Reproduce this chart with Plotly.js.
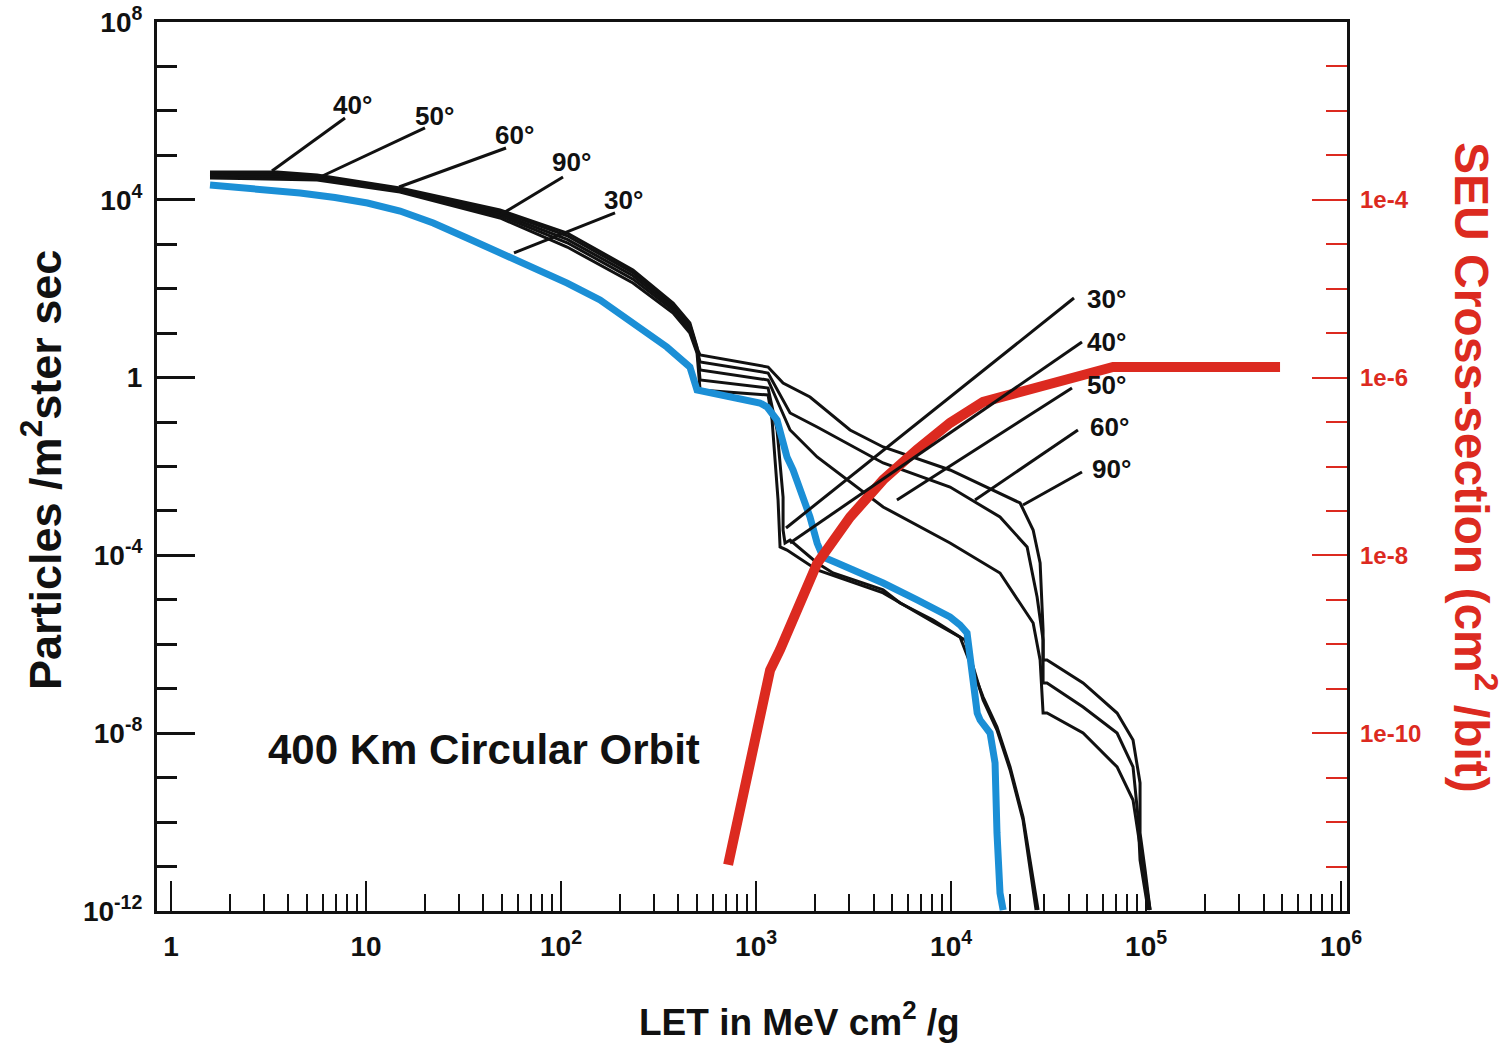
<!DOCTYPE html>
<html>
<head>
<meta charset="utf-8">
<script src="https://cdn.plot.ly/plotly-3.0.1.min.js"></script>
<style>html,body{margin:0;padding:0;background:#fff;}#chart{width:1506px;height:1047px;}</style>
</head>
<body>
<div id="chart"></div>
<script>
// ---------- data (LET in MeV cm^2/g, flux in particles /m^2 ster sec) ----------
const let90 = [1.584, 3.494, 5.61, 14.92, 48.6, 107.5, 233.7, 375.4, 457.7, 497.9, 516.2, 1152, 1375, 1890, 3032, 4482, 9877, 17810, 22580, 26340, 28600, 29620, 29620, 31030, 47500, 70960, 85670, 93070, 93070, 98790, 104800];
const flux90 = [39600, 39300, 34300, 17700, 5430, 1550, 230, 42.9, 15.2, 4.58, 3.22, 1.73, 0.755, 0.366, 0.0662, 0.0275, 0.00834, 0.00254, 0.00151, 3.72e-4, 6.75e-5, 2.10e-6, 4.44e-7, 4.44e-7, 1.35e-7, 2.84e-8, 7.03e-9, 7.59e-10, 5.69e-11, 8.36e-12, 1.05e-12];

const let60 = [1.584, 3.494, 5.61, 14.92, 48.6, 107.5, 233.7, 375.4, 457.7, 497.9, 516.2, 1152, 1494, 2056, 4482, 9877, 17810, 24530, 27600, 29620, 29620, 31030, 47500, 70960, 85670, 90880, 93070, 102400];
const flux60 = [36600, 35900, 32100, 16800, 4900, 1290, 195, 37.6, 13.3, 4.24, 2.24, 1.27, 0.16, 0.0774, 0.012, 0.00346, 7.31e-4, 1.55e-4, 1.16e-5, 1.25e-6, 1.35e-7, 1.35e-7, 3.88e-8, 1.01e-8, 1.74e-9, 1.30e-10, 1.40e-11, 1.05e-12];

const let50 = [1.584, 3.494, 5.61, 14.92, 48.6, 107.5, 233.7, 375.4, 457.7, 497.9, 516.2, 1152, 1494, 2056, 4482, 9877, 17810, 26340, 28600, 29620, 31030, 47500, 70960, 85670, 90880, 98790, 104800];
const flux50 = [33900, 32800, 30100, 15900, 4420, 1080, 164, 33.0, 11.7, 3.93, 1.48, 0.883, 0.0662, 0.0164, 0.00123, 1.90e-4, 4.02e-5, 3.01e-6, 4.44e-7, 2.84e-8, 2.84e-8, 1.01e-8, 1.74e-9, 3.14e-10, 5.69e-11, 4.98e-12, 1.05e-12];

const let40 = [1.584, 3.494, 5.61, 14.92, 48.6, 107.5, 233.7, 375.4, 457.7, 497.9, 516.2, 1152, 1281, 1327, 1375, 1375, 1407, 1494, 2056, 2480, 4482, 5470, 8083, 11110, 14590, 17190, 20060, 23380, 27930];
const flux40 = [42200, 42200, 36100, 18400, 5900, 1790, 264, 47.6, 16.9, 4.88, 0.883, 0.583, 0.0662, 0.012, 0.00206, 3.72e-4, 1.90e-4, 2.22e-4, 6.75e-5, 4.02e-5, 1.67e-5, 8.49e-6, 3.52e-6, 1.46e-6, 6.52e-8, 1.38e-8, 1.74e-9, 1.30e-10, 1.05e-12];

const let30 = [1.584, 3.494, 5.61, 14.92, 48.6, 107.5, 233.7, 375.4, 457.7, 497.9, 516.2, 1152, 1208, 1251, 1296, 1327, 1440, 2056, 4482, 8083, 11800, 14590, 17190, 20060, 23380, 27270];
const flux30 = [30900, 29500, 27900, 15000, 3900, 867, 134, 28.2, 10.0, 3.57, 0.526, 0.406, 0.111, 0.014, 0.00176, 1.55e-4, 1.32e-4, 4.70e-5, 1.43e-5, 3.18e-6, 1.25e-6, 5.58e-8, 1.18e-8, 1.49e-9, 1.11e-10, 1.05e-12];

const letBlue = [1.584, 2.54, 4.585, 6.93, 10.16, 14.94, 22.11, 32.94, 48.6, 71.8, 107.5, 158.4, 233.7, 348.6, 457.7, 497.9, 1046, 1139, 1281, 1374, 1440, 1548, 1680, 1890, 2056, 2204, 2603, 4482, 6693, 9868, 11110, 12070, 13610, 14090, 15840, 16800, 17190, 17810, 18490];
const fluxBlue = [21500, 18430, 14220, 11260, 8470, 5598, 3006, 1383, 635, 292.4, 134, 55.7, 16.9, 4.88, 1.73, 0.526, 0.269, 0.218, 0.111, 0.0394, 0.0164, 0.00834, 0.00296, 7.31e-4, 1.90e-4, 9.2e-5, 6.75e-5, 2.39e-5, 9.93e-6, 4.11e-6, 2.72e-6, 1.79e-6, 2.84e-8, 1.98e-8, 1.01e-8, 2.14e-9, 5.69e-11, 2.54e-12, 1.05e-12];

// SEU cross-section (cm^2/bit) vs LET
const letSEU = [718.5, 1180, 1327, 2056, 3032, 4482, 6693, 9877, 14590, 67670, 486000];
const seuXsec = [3.31e-12, 5.13e-10, 8.71e-10, 8.13e-9, 2.69e-8, 7.08e-8, 1.55e-7, 3.09e-7, 5.32e-7, 1.32e-6, 1.32e-6];

// tick labels
const xTickVals = [1, 10, 100, 1000, 10000, 100000, 1000000];
const xTickText = ['1', '10', '10<sup>2</sup>', '10<sup>3</sup>', '10<sup>4</sup>', '10<sup>5</sup>', '10<sup>6</sup>'];
const yTickVals = [1e-12, 1e-8, 1e-4, 1, 1e4, 1e8];
const yTickText = ['10<sup>-12</sup>', '10<sup>-8</sup>', '10<sup>-4</sup>', '1', '10<sup>4</sup>', '10<sup>8</sup>'];
const y2TickVals = [1e-10, 1e-8, 1e-6, 1e-4];
const y2TickText = ['1e-10', '1e-8', '1e-6', '1e-4'];
const angleLabels = ['30°', '40°', '50°', '60°', '90°'];

// ---------- tick helpers ----------
const xMinor = [];
for (let d = 0; d < 6; d++) for (let k = 2; k <= 9; k++) xMinor.push(k * Math.pow(10, d));
const yMinor = [];
for (let e = -11; e <= 7; e++) if (e % 4 !== 0) yMinor.push(Math.pow(10, e));
const y2Minor = [];
for (let e = -11.5; e <= -2.5; e += 0.5) if (!(Number.isInteger(e) && e % 2 === 0)) y2Minor.push(Math.pow(10, e));

const FONT = 'Liberation Sans, Arial, Helvetica, sans-serif';
const RED = '#dc2a20';
const BLUE = '#1b8fd6';

function blackTrace(x, y, name) {
  return {x: x, y: y, name: name, type: 'scatter', mode: 'lines',
          line: {color: '#111', width: 3}, hoverinfo: 'skip'};
}

const traces = [
  blackTrace(let90, flux90, '90°'),
  blackTrace(let60, flux60, '60°'),
  blackTrace(let50, flux50, '50°'),
  blackTrace(let40, flux40, '40°'),
  blackTrace(let30, flux30, '30°'),
  {x: letBlue, y: fluxBlue, name: 'blue', type: 'scatter', mode: 'lines',
   line: {color: BLUE, width: 7}},
  {x: letSEU, y: seuXsec, name: 'SEU', type: 'scatter', mode: 'lines', yaxis: 'y2',
   line: {color: RED, width: 10}}
];

// leader lines (paper coordinates) and label positions
const leaders = [
  [0.0966, 0.8324, 0.1580, 0.8920],
  [0.1336, 0.8234, 0.2252, 0.8808],
  [0.2034, 0.8144, 0.2933, 0.8583],
  [0.2882, 0.7829, 0.3412, 0.8256],
  [0.3000, 0.7402, 0.3849, 0.7852],
  [0.5286, 0.4308, 0.7706, 0.6895],
  [0.5319, 0.4139, 0.7773, 0.6400],
  [0.6218, 0.4623, 0.7689, 0.5883],
  [0.6874, 0.4623, 0.7739, 0.5411],
  [0.7277, 0.4567, 0.7773, 0.4938]
];
const shapes = leaders.map(l => ({type: 'line', xref: 'paper', yref: 'paper',
  x0: l[0], y0: l[1], x1: l[2], y1: l[3], line: {color: '#111', width: 3}}));

const labelPos = [
  [0.1647, 0.9066, 1], [0.2336, 0.8943, 2], [0.3000, 0.8729, 3], [0.3479, 0.8425, 4], [0.3916, 0.7998, 0],
  [0.7983, 0.6884, 0], [0.7983, 0.6400, 1], [0.7983, 0.5917, 2], [0.8000, 0.5444, 3], [0.8017, 0.4972, 4]
];
const annotations = labelPos.map(p => ({xref: 'paper', yref: 'paper', x: p[0], y: p[1],
  text: angleLabels[p[2]], showarrow: false, xanchor: 'center', yanchor: 'middle',
  font: {family: FONT, size: 26, color: '#111', weight: 700}}));

annotations.push(
  {xref: 'paper', yref: 'paper', x: 0.2748, y: 0.1822, text: '400 Km Circular Orbit', showarrow: false,
   xanchor: 'center', yanchor: 'middle', font: {family: FONT, size: 42, color: '#111', weight: 700}},
  {xref: 'paper', yref: 'paper', x: -0.0966, y: 0.4961, text: 'Particles /m<sup>2</sup>ster sec', showarrow: false,
   textangle: -90, xanchor: 'center', yanchor: 'middle', font: {family: FONT, size: 45, color: '#111', weight: 700}},
  {xref: 'paper', yref: 'paper', x: 0.5403, y: -0.1215, text: 'LET in MeV cm<sup>2</sup> /g', showarrow: false,
   xanchor: 'center', yanchor: 'middle', font: {family: FONT, size: 37, color: '#111', weight: 700}},
  {xref: 'paper', yref: 'paper', x: 1.1076, y: 0.4994, text: 'SEU Cross-section (cm<sup>2</sup> /bit)', showarrow: false,
   textangle: 90, xanchor: 'center', yanchor: 'middle', font: {family: FONT, size: 48, color: RED, weight: 700}}
);

const layout = {
  width: 1506, height: 1047,
  margin: {l: 157, r: 159, t: 22, b: 136, pad: 0},
  paper_bgcolor: '#fff', plot_bgcolor: '#fff',
  showlegend: false,
  xaxis: {
    type: 'log', range: [-0.072, 6.03], showgrid: false, zeroline: false,
    showline: true, linecolor: '#111', linewidth: 3, mirror: true,
    ticks: 'inside', ticklen: 30, tickwidth: 2, tickcolor: '#111',
    tickmode: 'array', tickvals: xTickVals, ticktext: xTickText,
    tickfont: {family: FONT, size: 28, color: '#111', weight: 700},
    ticklabelstandoff: 8,
    minor: {tickmode: 'array', tickvals: xMinor, ticks: 'inside', ticklen: 17, tickwidth: 2, tickcolor: '#111', showgrid: false}
  },
  yaxis: {
    type: 'log', range: [-12, 8], showgrid: false, zeroline: false,
    showline: true, linecolor: '#111', linewidth: 3, mirror: true,
    ticks: 'inside', ticklen: 38, tickwidth: 3, tickcolor: '#111',
    tickmode: 'array', tickvals: yTickVals, ticktext: yTickText,
    tickfont: {family: FONT, size: 28, color: '#111', weight: 700},
    ticklabelstandoff: 6,
    minor: {tickmode: 'array', tickvals: yMinor, ticks: 'inside', ticklen: 20, tickwidth: 3, tickcolor: '#111', showgrid: false}
  },
  yaxis2: {
    type: 'log', range: [-12, -2], overlaying: 'y', side: 'right', showgrid: false, zeroline: false,
    showline: false,
    ticks: 'inside', ticklen: 35, tickwidth: 2, tickcolor: RED,
    tickmode: 'array', tickvals: y2TickVals, ticktext: y2TickText,
    tickfont: {family: FONT, size: 24, color: RED, weight: 700},
    ticklabelstandoff: 12,
    minor: {tickmode: 'array', tickvals: y2Minor, ticks: 'inside', ticklen: 21, tickwidth: 2, tickcolor: RED, showgrid: false}
  },
  shapes: shapes,
  annotations: annotations
};

Plotly.newPlot('chart', traces, layout, {displayModeBar: false, staticPlot: true});
</script>
</body>
</html>
